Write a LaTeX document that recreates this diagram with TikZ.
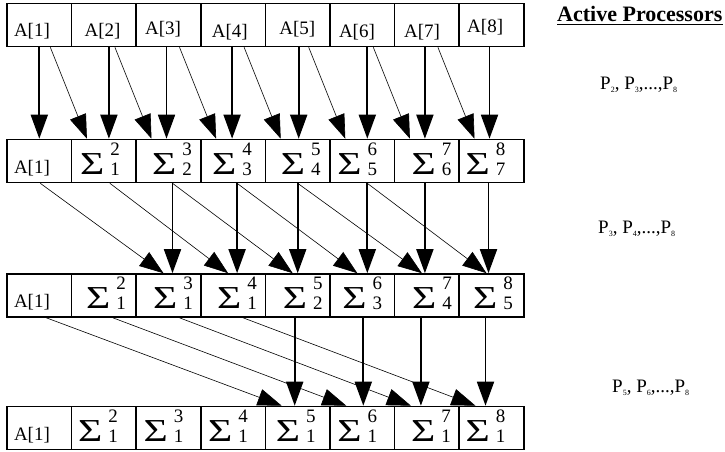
\documentclass[tikz,border=0pt]{standalone}
\usepackage{fontspec}
\setmainfont{Liberation Serif}
\usepackage{graphicx}
\usetikzlibrary{arrows.meta,calc}

\newcommand{\atext}[3]{\makebox[64.6pt][l]{\hspace*{#1pt}\raisebox{#2pt}{#3}}}
\newcommand{\sig}[3]{\makebox[64.6pt]{\kern#3pt\kern#3pt\scalebox{1.3}[1]{\fontsize{32}{32}\selectfont Σ}\hspace{6pt}\raisebox{-1pt}{\begin{tabular}[b]{@{}c@{}}#1\\#2\end{tabular}}}}
\newcommand{\proc}[1]{P\raisebox{-3pt}{\fontsize{8}{8}\selectfont #1}}

\begin{document}
\begin{tikzpicture}[x=1pt,y=-1pt,
  cell/.style={draw,line width=1.6pt,minimum width=64.6pt,minimum height=43pt,inner sep=0pt,font=\fontsize{19}{20}\selectfont},
  acell/.style={cell,text height=24pt,text depth=0pt},
  head/.style={-{Triangle[length=24pt,width=17pt]}},
  push/.style={head,line width=1.8pt},
  pass/.style={head,line width=0.6pt}]
\useasboundingbox (0,0) rectangle (725,452);

\foreach \i/\dx/\dy in {1/7/0,2/13/0,3/9/2,4/11/-1,5/14/2,6/9/-1,7/9.5/-1,8/8/4}
  \node[acell] (r1c\i) at ({7+64.6*(\i-0.5)},25) {\atext{\dx}{\dy}{A[\i]}};
\foreach \row/\y in {2/161,3/295.5,4/428}
  \node[acell] (r\row c1) at (39.3,\y) {\atext{7}{0}{A[1]}};
\foreach \i/\lo/\off in {2/1/-4,3/2/3.6,4/3/-1,5/4/3,6/5/-5,7/6/4.6,8/7/-6}
  \node[cell] (r2c\i) at ({7+64.6*(\i-0.5)},161) {\sig{\i}{\lo}{\off}};
\foreach \i/\lo/\off in {2/1/2,3/1/4.6,4/1/4,5/2/5,6/3/0,7/4/5,8/5/1.4}
  \node[cell] (r3c\i) at ({7+64.6*(\i-0.5)},295.5) {\sig{\i}{\lo}{\off}};
\foreach \i/\off in {2/-6,3/-5,4/-5,5/-2,6/-5,7/4,8/-6}
  \node[cell] (r4c\i) at ({7+64.6*(\i-0.5)},428) {\sig{\i}{1}{\off}};

\foreach \i/\dx in {1/0,2/5,3/-2,4/-1,5/1,6/5,7/-2,8/-2}
  \draw[push] ($(r1c\i.south)+(\dx,0)$) -- ($(r2c\i.north)+(\dx,0)$);
\foreach \i [evaluate=\i as \j using int(\i+1)] in {1,...,7}
  \draw[pass] ($(r1c\i.south)+(11,0)$) -- ($(r2c\j.north)+(-17,0)$);

\foreach \i/\dx in {3/4,4/4,5/0,6/5,7/-2,8/-3}
  \draw[push] ($(r2c\i.south)+(\dx,0)$) -- ($(r3c\i.north)+(\dx,0)$);
\foreach \i/\dx [evaluate=\i as \j using int(\i+2)] in {1/1,2/6,3/4,4/4,5/0,6/5}
  \draw[pass] ($(r2c\i.south)+(\dx,0)$) -- ($(r3c\j.north)+(-5,0)$);

\foreach \i/\dx in {5/-3,6/1,7/-6,8/-6}
  \draw[push] ($(r3c\i.south)+(\dx,0)$) -- ($(r4c\i.north)+(\dx,0)$);
\foreach \i/\dx [evaluate=\i as \j using int(\i+4)] in {1/7,2/9,3/11,4/10}
  \draw[pass] ($(r3c\i.south)+(\dx,0)$) -- ($(r4c\j.north)+(-16,0)$);

\node[anchor=base west,inner sep=0pt,font=\fontsize{22}{22}\selectfont\bfseries] (title) at (557,22) {Active Processors};
\draw[line width=1.3pt] ($(title.base west)+(0,2.5)$) -- ($(title.base east)+(0,2.5)$);
\node[anchor=base west,inner sep=0pt,font=\fontsize{19}{19}\selectfont] (p1) at (600,89) {\proc{2}, \proc{3},...,\proc{8}};
\node[anchor=base west,inner sep=0pt,font=\fontsize{19}{19}\selectfont] (p2) at (598,233) {\proc{3}, \proc{4},...,\proc{8}};
\node[anchor=base west,inner sep=0pt,font=\fontsize{19}{19}\selectfont] (p3) at (612,392) {\proc{5}, \proc{6},...,\proc{8}};
\end{tikzpicture}
\end{document}
